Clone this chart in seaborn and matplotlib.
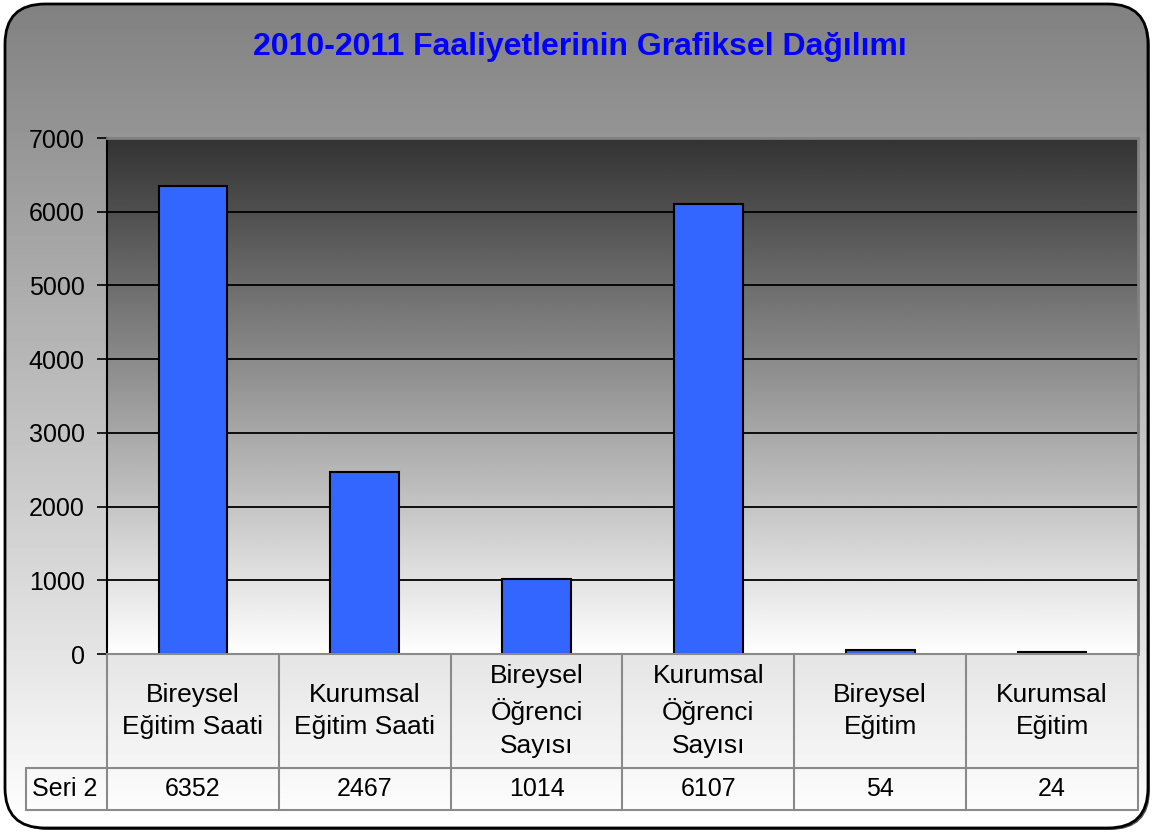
import numpy as np
import matplotlib
matplotlib.use("Agg")
import matplotlib.pyplot as plt
import seaborn as sns
from matplotlib.patches import FancyBboxPatch
from matplotlib.transforms import blended_transform_factory

categories = ["Bireysel\nEğitim Saati", "Kurumsal\nEğitim Saati", "Bireysel\nÖğrenci\nSayısı",
              "Kurumsal\nÖğrenci\nSayısı", "Bireysel\nEğitim", "Kurumsal\nEğitim"]
values = [6352, 2467, 1014, 6107, 54, 24]
series_name = "Seri 2"
title = "2010-2011 Faaliyetlerinin Grafiksel Dağılımı"
yticks = [0, 1000, 2000, 3000, 4000, 5000, 6000, 7000]

sns.set_style("white")
plt.rcParams["font.family"] = ["Liberation Sans", "DejaVu Sans"]
plt.rcParams["text.color"] = "black"

W, H = 1155, 832
fig = plt.figure(figsize=(W / 100, H / 100), dpi=100)
fig.patch.set_facecolor("white")

# outer rounded frame with grey->white gradient (bg axes in pixel units, y up)
bg = fig.add_axes([0, 0, 1, 1], zorder=-10)
bg.set_xlim(0, W)
bg.set_ylim(0, H)
bg.axis("off")
shadow = FancyBboxPatch((8, 2), W - 13, H - 8, boxstyle="round,pad=0,rounding_size=40",
                        facecolor="#555555", edgecolor="none")
bg.add_patch(shadow)
frame = FancyBboxPatch((5, 4), W - 12, H - 8, boxstyle="round,pad=0,rounding_size=40",
                       facecolor="none", edgecolor="black", linewidth=2, zorder=3)
bg.add_patch(frame)
grad = np.linspace(1.0, 0.0, 256).reshape(-1, 1)
img = bg.imshow(grad, extent=(5, W - 7, 4, H - 4), aspect="auto", cmap="gray",
                vmin=-1.02, vmax=1.0, origin="lower", zorder=1)
img.set_clip_path(FancyBboxPatch((5, 4), W - 12, H - 8, boxstyle="round,pad=0,rounding_size=40",
                                 transform=bg.transData))

fig.text(0.502, 1 - 47 / H, title, ha="center", va="center", color="#0000ff",
         fontsize=23, fontweight="bold")

left, right = 107 / W, 1138 / W
bottom, top = 1 - 654 / H, 1 - 138 / H
ax = fig.add_axes([left, bottom, right - left, top - bottom])
ax.set_facecolor("none")

# plot area gradient dark -> white
pgrad = np.linspace(1.0, 0.2, 256).reshape(-1, 1)
ax.imshow(pgrad, extent=(-0.5, len(values) - 0.5, 0, 7000), aspect="auto", cmap="gray",
          vmin=0, vmax=1, origin="lower", zorder=0)

for y in yticks[1:]:
    ax.axhline(y, color="black", linewidth=1.3, zorder=1)

sns.barplot(x=list(range(len(values))), y=values, color="#3366ff", edgecolor="black",
            linewidth=1.5, width=0.4, saturation=1, ax=ax, zorder=2)

ax.set_xlim(-0.5, len(values) - 0.5)
ax.set_ylim(0, 7000)
ax.set_yticks(yticks)
ax.set_yticklabels([str(v) for v in yticks], fontsize=18, color="black")
ax.tick_params(axis="y", direction="out", length=7, width=1.2, pad=9, left=True, colors="black")
ax.set_xticks([])
ax.set_xlabel("")
ax.set_ylabel("")
for s in ["top", "right"]:
    ax.spines[s].set_color("#808080")
    ax.spines[s].set_linewidth(2)
ax.spines["left"].set_color("black")
ax.spines["left"].set_linewidth(1.5)
ax.spines["bottom"].set_color("#8a8a8a")
ax.spines["bottom"].set_linewidth(1.5)

# data table below the axes: x in data units, y in pixels from the bottom
tr = blended_transform_factory(ax.transData, bg.transData)
y_top, y_mid, y_bot = H - 654, H - 768, H - 810
n = len(values)
lc = "#8a8a8a"
x_lab = -0.5 - 81 / 171.8
for i in range(n + 1):
    ax.plot([i - 0.5, i - 0.5], [y_top, y_bot], color=lc, lw=1.5, transform=tr, clip_on=False)
ax.plot([x_lab, n - 0.5], [y_mid, y_mid], color=lc, lw=1.5, transform=tr, clip_on=False)
ax.plot([x_lab, n - 0.5], [y_bot, y_bot], color=lc, lw=1.5, transform=tr, clip_on=False)
ax.plot([x_lab] * 2, [y_mid, y_bot], color=lc, lw=1.5, transform=tr, clip_on=False)
for i, (cat, v) in enumerate(zip(categories, values)):
    ax.text(i, (y_top + y_mid) / 2, cat, ha="center", va="center", fontsize=19,
            linespacing=1.45, color="black", transform=tr, clip_on=False)
    ax.text(i, (y_mid + y_bot) / 2, str(v), ha="center", va="center", fontsize=18,
            color="black", transform=tr, clip_on=False)
ax.text(x_lab + 6 / 171.8, (y_mid + y_bot) / 2, series_name, ha="left", va="center",
        fontsize=18, color="black", transform=tr, clip_on=False)

fig.savefig("out.png", dpi=100)
